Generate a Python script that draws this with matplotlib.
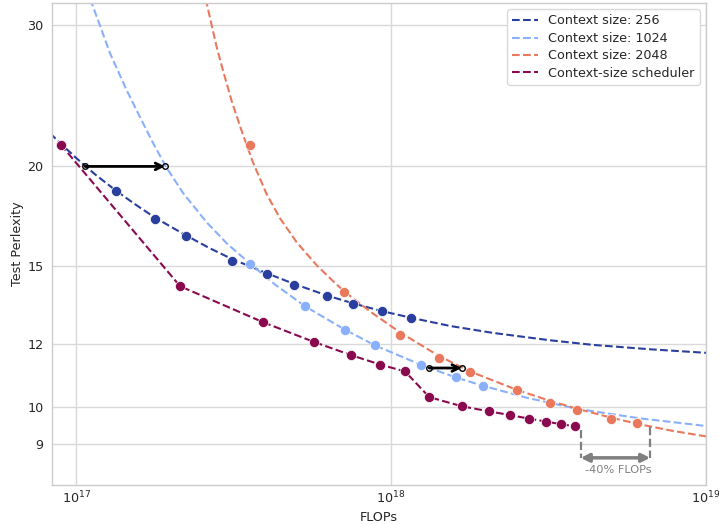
import matplotlib
matplotlib.use("Agg")
import matplotlib.pyplot as plt
import numpy as np
from matplotlib.ticker import FixedLocator, FixedFormatter, NullLocator

# ── colours ───────────────────────────────────────────────────────────────────
C_256   = "#2A3F9D"
C_1024  = "#8AB0FC"
C_2048  = "#E9795D"
C_SCHED = "#8A0A4F"
GRAY    = "#808080"

# ── measured runs (FLOPs, test perplexity) ────────────────────────────────────
flops_256 = [8.94e16, 1.34e17, 1.785e17, 2.23e17, 3.12e17, 4.03e17, 4.91e17,
             6.25e17, 7.57e17, 9.36e17, 1.16e18]
ppl_256   = [21.30, 18.62, 17.21, 16.36, 15.23, 14.66, 14.23, 13.76, 13.46,
             13.19, 12.93]

flops_1024 = [3.57e17, 5.34e17, 7.13e17, 8.91e17, 1.247e18, 1.605e18, 1.964e18]
ppl_1024   = [15.12, 13.37, 12.51, 11.95, 11.30, 10.90, 10.64]

flops_2048 = [3.57e17, 7.11e17, 1.068e18, 1.417e18, 1.78e18, 2.51e18, 3.20e18,
              3.90e18, 4.99e18, 6.05e18]
ppl_2048   = [21.26, 13.93, 12.32, 11.54, 11.07, 10.50, 10.14, 9.92, 9.68, 9.55]

flops_sched = [8.94e16, 2.14e17, 3.92e17, 5.70e17, 7.48e17, 9.25e17, 1.108e18,
               1.323e18, 1.684e18, 2.04e18, 2.395e18, 2.75e18, 3.11e18,
               3.46e18, 3.83e18]
ppl_sched   = [21.30, 14.17, 12.78, 12.07, 11.62, 11.31, 11.09, 10.30, 10.03,
               9.89, 9.78, 9.68, 9.60, 9.53, 9.47]

# ── fitted scaling curves ─────────────────────────────────────────────────────
fit_flops_256 = [8.27e16, 8.94e16, 1.0e17, 1.149e17, 1.34e17, 1.539e17,
                 1.785e17, 2.23e17, 2.663e17, 3.121e17, 4.031e17, 4.911e17,
                 6.25e17, 7.574e17, 9.364e17, 1.16e18, 1.539e18, 2.108e18,
                 3.197e18, 4.378e18, 6.641e18, 1.0e19]
fit_ppl_256   = [22.00, 21.36, 20.50, 19.55, 18.65, 17.94, 17.25, 16.41, 15.80,
                 15.33, 14.71, 14.27, 13.80, 13.49, 13.19, 12.94, 12.64, 12.39,
                 12.13, 11.97, 11.82, 11.70]

fit_flops_1024 = [1.092e17, 1.122e17, 1.282e17, 1.448e17, 1.597e17, 1.760e17,
                  1.927e17, 2.191e17, 2.599e17, 3.009e17, 3.568e17, 4.282e17,
                  5.344e17, 7.129e17, 8.911e17, 1.247e18, 1.605e18, 1.964e18,
                  2.702e18, 3.896e18, 6.172e18, 1.0e19]
fit_ppl_1024   = [33.02, 31.99, 27.70, 24.90, 23.04, 21.36, 20.00, 18.51, 17.03,
                  16.03, 15.12, 14.24, 13.37, 12.51, 11.95, 11.30, 10.90, 10.64,
                  10.28, 9.96, 9.69, 9.48]

fit_flops_2048 = [2.530e17, 2.599e17, 2.696e17, 2.797e17, 2.935e17, 3.121e17,
                  3.317e17, 3.483e17, 3.656e17, 4.031e17, 4.442e17, 5.018e17,
                  5.809e17, 6.559e17, 7.108e17, 8.577e17, 1.068e18, 1.417e18,
                  1.782e18, 2.506e18, 3.197e18, 3.904e18, 4.994e18, 6.052e18,
                  7.688e18, 1.0e19]
fit_ppl_2048   = [33.60, 31.99, 30.02, 28.18, 26.27, 24.13, 22.45, 21.26, 20.18,
                  18.46, 17.23, 16.08, 15.05, 14.37, 13.96, 13.18, 12.41, 11.60,
                  11.09, 10.52, 10.19, 9.96, 9.71, 9.54, 9.36, 9.20]

# ── annotations ───────────────────────────────────────────────────────────────
arrow_256_1024  = (1.068e17, 1.916e17, 20.0)   # x0, x1, perplexity
arrow_1024_2048 = (1.323e18, 1.677e18, 11.2)
saving_x      = (4.0e18, 6.65e18)
saving_top    = (9.36, 9.45)
saving_y      = 8.65
saving_text_y = 8.36
saving_label  = "-40% FLOPs"

y_ticks  = [9, 10, 12, 15, 20, 30]

plt.rcParams.update({
    "font.family": "DejaVu Sans",
    "font.size": 9.2,
    "text.color": "#262626",
    "axes.labelcolor": "#262626",
    "xtick.color": "#262626",
    "ytick.color": "#262626",
})

fig = plt.figure(figsize=(7.19, 5.25), dpi=100)
ax = fig.add_axes([52 / 719, 1 - 485 / 525, 654 / 719, 482 / 525])
ax.set_xscale("log")
ax.set_yscale("log")

lw = 1.5
ax.plot(fit_flops_256, fit_ppl_256, "--", color=C_256, lw=lw, zorder=2,
        label="Context size: 256")
ax.plot(fit_flops_1024, fit_ppl_1024, "--", color=C_1024, lw=lw, zorder=2,
        label="Context size: 1024")
ax.plot(fit_flops_2048, fit_ppl_2048, "--", color=C_2048, lw=lw, zorder=2,
        label="Context size: 2048")
ax.plot(flops_sched, ppl_sched, "--", color=C_SCHED, lw=lw, zorder=2,
        label="Context-size scheduler")

mk = dict(ls="none", marker="o", ms=7.3, mec="white", mew=0.5, zorder=4)
ax.plot(flops_256, ppl_256, color=C_256, **mk)
ax.plot(flops_1024, ppl_1024, color=C_1024, **mk)
ax.plot(flops_2048, ppl_2048, color=C_2048, **mk)
ax.plot(flops_sched, ppl_sched, color=C_SCHED, **mk)

# iso-perplexity arrows between context sizes
for x0, x1, yv in (arrow_256_1024, arrow_1024_2048):
    ax.annotate("", xy=(x1, yv), xytext=(x0, yv),
                arrowprops=dict(arrowstyle="->", color="black", lw=2.0,
                                shrinkA=0, shrinkB=0, mutation_scale=12),
                zorder=6)
    ax.plot([x0, x1], [yv, yv], ls="none", marker="o", ms=4, mfc="none",
            mec="black", mew=1.0, zorder=7)

# FLOPs saving of the scheduler vs. context size 2048
for xv, top in zip(saving_x, saving_top):
    ax.plot([xv, xv], [top, saving_y], "--", color=GRAY, lw=1.6, zorder=3)
ax.annotate("", xy=(saving_x[1], saving_y), xytext=(saving_x[0], saving_y),
            arrowprops=dict(arrowstyle="<|-|>", color=GRAY, lw=2.5,
                            shrinkA=0, shrinkB=0, mutation_scale=12),
            zorder=5)
ax.text(np.sqrt(saving_x[0] * saving_x[1]) * 1.02, saving_text_y, saving_label,
        color=GRAY, fontsize=8.2, ha="center", va="center")

ax.set_xlim(8.39e16, 1e19)
ax.set_ylim(8.0, 32.0)
ax.yaxis.set_major_locator(FixedLocator(y_ticks))
ax.yaxis.set_major_formatter(FixedFormatter([str(t) for t in y_ticks]))
ax.yaxis.set_minor_locator(NullLocator())
ax.xaxis.set_minor_locator(NullLocator())

ax.grid(True, which="major", color="#d9d9d9", lw=1.0, zorder=0)
ax.set_axisbelow(True)
for s in ax.spines.values():
    s.set_color("#cccccc")
    s.set_linewidth(1.0)
ax.tick_params(axis="y", length=0, pad=6)
ax.tick_params(axis="x", length=0, pad=3.5)

ax.set_xlabel("FLOPs", labelpad=3)
ax.set_ylabel("Test Perlexity", labelpad=2.5)

leg = ax.legend(loc="upper right", frameon=True, framealpha=1.0,
                edgecolor="#d9d9d9", fontsize=9.2, handlelength=2.0,
                borderaxespad=0.5, labelspacing=0.35)

fig.savefig("out.png", dpi=100, facecolor="white")
